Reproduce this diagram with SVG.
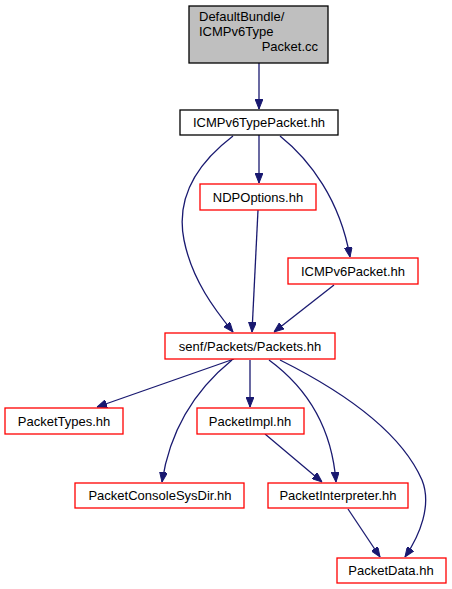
<svg xmlns="http://www.w3.org/2000/svg" width="452" height="589" viewBox="0 0 452 589">
<defs>
<marker id="ah" viewBox="0 0 10 8" refX="10" refY="4" markerWidth="10" markerHeight="8" markerUnits="userSpaceOnUse" orient="auto">
<path d="M0,0 L10,4 L0,8 Z" fill="#191970" stroke="#191970" stroke-width="1"/>
</marker>
<style>
.n rect{fill:#fff;stroke:#ff0000;stroke-width:1.3}
.n text{font-family:"Liberation Sans",Arial,sans-serif;font-size:13px;fill:#000;text-anchor:middle}
#edges path{fill:none;stroke:#191970;stroke-width:1.3;marker-end:url(#ah)}
</style>
</defs>
<rect width="452" height="589" fill="#fff"/>
<g id="edges">
<path d="M259,63 L259,109"/>
<path d="M259,135 L259,183"/>
<path d="M233,136 C195,165 176,200 184,240 C192,280 215,310 233,332"/>
<path d="M280,136 C310,160 340,200 350,257"/>
<path d="M258,210 L252,332"/>
<path d="M334,285 L274,332"/>
<path d="M234,359 L97,407"/>
<path d="M232,360 C195,390 170,430 162,482"/>
<path d="M250,360 L250,407"/>
<path d="M269,360 C310,390 332,430 336,482"/>
<path d="M280,360 C340,390 400,430 422,480 C432,505 420,535 405,557"/>
<path d="M265,434 L322,482"/>
<path d="M348,509 L380,557"/>
</g>
<g id="n0" class="n">
<rect x="189" y="6" width="139" height="57" style="fill:#bfbfbf;stroke:#000"/>
<text x="199" y="21" style="text-anchor:start">DefaultBundle/</text>
<text x="199" y="36" style="text-anchor:start">ICMPv6Type</text>
<text x="318" y="51" style="text-anchor:end">Packet.cc</text>
</g>
<g id="n1" class="n">
<rect x="180" y="110" width="158" height="25" style="stroke:#000"/>
<text x="259" y="127">ICMPv6TypePacket.hh</text>
</g>
<g id="n2" class="n">
<rect x="200" y="184" width="116" height="26"/>
<text x="258" y="202">NDPOptions.hh</text>
</g>
<g id="n3" class="n">
<rect x="288" y="258" width="130" height="26"/>
<text x="353" y="276">ICMPv6Packet.hh</text>
</g>
<g id="n4" class="n">
<rect x="165" y="333" width="170" height="26"/>
<text x="250" y="351">senf/Packets/Packets.hh</text>
</g>
<g id="n5" class="n">
<rect x="5" y="408" width="118" height="26"/>
<text x="64" y="426">PacketTypes.hh</text>
</g>
<g id="n6" class="n">
<rect x="197" y="408" width="107" height="26"/>
<text x="250" y="426">PacketImpl.hh</text>
</g>
<g id="n7" class="n">
<rect x="75" y="483" width="169" height="25"/>
<text x="160" y="500">PacketConsoleSysDir.hh</text>
</g>
<g id="n8" class="n">
<rect x="268" y="483" width="140" height="25"/>
<text x="338" y="500">PacketInterpreter.hh</text>
</g>
<g id="n9" class="n">
<rect x="337" y="558" width="109" height="25"/>
<text x="391" y="575">PacketData.hh</text>
</g>
</svg>
